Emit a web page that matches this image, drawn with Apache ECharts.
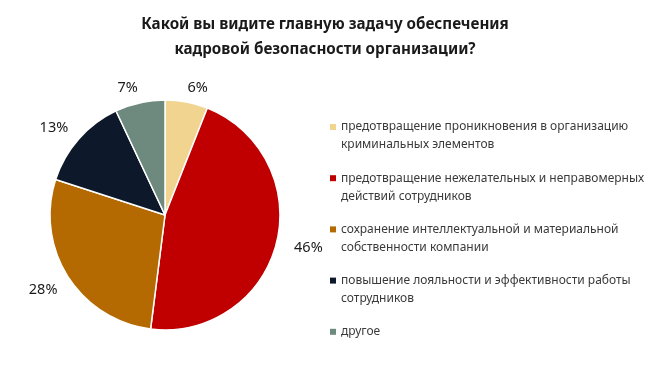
<!DOCTYPE html>
<html>
<head>
<meta charset="utf-8">
<script src="https://cdn.jsdelivr.net/npm/echarts@6/dist/echarts.min.js"></script>
<style>html,body{margin:0;padding:0;background:#fff;}#c{width:650px;height:366px;}</style>
</head>
<body>
<div id="c"></div>
<script>
const titleText = 'Какой вы видите главную задачу обеспечения\nкадровой безопасности организации?';
const categories = [
  'предотвращение проникновения в организацию\nкриминальных элементов',
  'предотвращение нежелательных и неправомерных\nдействий сотрудников',
  'сохранение интеллектуальной и материальной\nсобственности компании',
  'повышение лояльности и эффективности работы\nсотрудников',
  'другое'
];
const values = [6, 46, 28, 13, 7];
const colors = ['#F1D48F', '#C00000', '#B46A00', '#0D192B', '#6E8A7E'];

const labelNudge = [[-9, -4], [0, 2], [6, 8], [5, -4], [8, -5]];

const chart = echarts.init(document.getElementById('c'));
chart.setOption({
  animation: false,
  title: {
    text: titleText,
    left: 'center',
    top: 7,
    textStyle: { fontFamily: 'Noto Sans', fontSize: 15.2, fontWeight: 'bold', color: '#1a1a1a', lineHeight: 25, align: 'center' }
  },
  legend: {
    orient: 'vertical',
    left: 330,
    top: 100,
    padding: 0,
    itemGap: -2.8,
    itemWidth: 6,
    itemHeight: 6,
    icon: 'rect',
    itemStyle: { borderWidth: 0 },
    textStyle: { fontFamily: 'Noto Sans', fontSize: 12, color: '#3a3a3a', lineHeight: 18 },
    formatter: function (name) {
      return name.indexOf('\n') >= 0 ? '\n' + name : '\n' + name + '\n';
    },
    data: categories
  },
  series: [{
    type: 'pie',
    center: [165, 215],
    radius: 115,
    startAngle: 90,
    clockwise: true,
    avoidLabelOverlap: false,
    itemStyle: { borderColor: '#fff', borderWidth: 1.5 },
    label: {
      show: true,
      position: 'outside',
      formatter: '{c}%',
      fontFamily: 'Noto Sans',
      fontSize: 14.5,
      color: '#1a1a1a'
    },
    labelLine: { show: false, length: 10, length2: 3 },
    labelLayout: function (p) {
      const n = labelNudge[p.dataIndex];
      return { dx: n[0], dy: n[1] };
    },
    data: categories.map((c, i) => ({ name: c, value: values[i], itemStyle: { color: colors[i] } }))
  }]
});
</script>
</body>
</html>
